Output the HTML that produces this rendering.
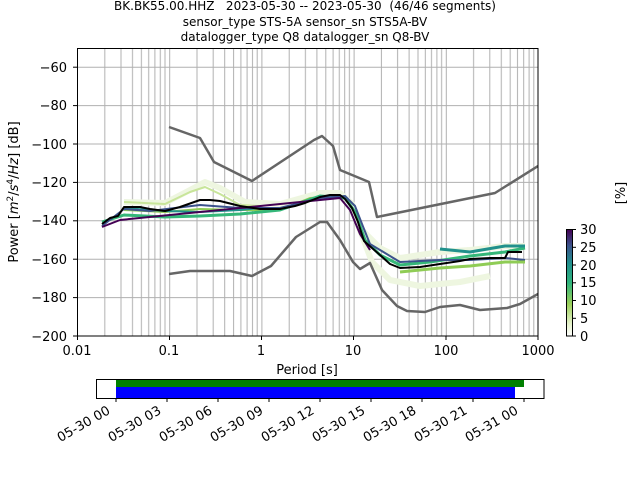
<!DOCTYPE html>
<html><head><meta charset="utf-8"><style>
html,body{margin:0;padding:0;background:#fff;}
svg{display:block;font-family:"DejaVu Sans","Liberation Sans",sans-serif;}
</style></head><body>
<svg width="640" height="480" viewBox="0 0 640 480" xmlns="http://www.w3.org/2000/svg">
<defs>
<pattern id="vg" x="77" y="0" width="92.2" height="480" patternUnits="userSpaceOnUse">
<g stroke="#b0b0b0" stroke-width="1">
<line x1="0.5" y1="0" x2="0.5" y2="480"/><line x1="27.8" y1="0" x2="27.8" y2="480"/>
<line x1="44" y1="0" x2="44" y2="480"/><line x1="55.5" y1="0" x2="55.5" y2="480"/>
<line x1="64.4" y1="0" x2="64.4" y2="480"/><line x1="71.7" y1="0" x2="71.7" y2="480"/>
<line x1="77.9" y1="0" x2="77.9" y2="480"/><line x1="83.3" y1="0" x2="83.3" y2="480"/>
<line x1="88" y1="0" x2="88" y2="480"/></g>
</pattern>
<linearGradient id="cb" x1="0" y1="1" x2="0" y2="0">
<stop offset="0" stop-color="#ffffff"/><stop offset="0.12" stop-color="#e4f1c8"/>
<stop offset="0.3" stop-color="#9bd05a"/><stop offset="0.5" stop-color="#2fb47c"/>
<stop offset="0.68" stop-color="#21908d"/><stop offset="0.85" stop-color="#3b528b"/>
<stop offset="1" stop-color="#440154"/></linearGradient>
<clipPath id="ax"><rect x="77" y="48" width="461" height="288"/></clipPath>
</defs>
<g font-size="12" text-anchor="middle" fill="#000">
<text x="305" y="10">BK.BK55.00.HHZ&#160;&#160;&#160;2023-05-30 -- 2023-05-30&#160;&#160;(46/46 segments)</text>
<text x="305" y="26">sensor_type STS-5A sensor_sn STS5A-BV</text>
<text x="305" y="41">datalogger_type Q8 datalogger_sn Q8-BV</text>
</g>
<rect x="77" y="48" width="461" height="288" fill="url(#vg)"/>
<g stroke="#b0b0b0" stroke-width="1">
<line x1="77" y1="67.2" x2="538" y2="67.2"/><line x1="77" y1="105.6" x2="538" y2="105.6"/>
<line x1="77" y1="144" x2="538" y2="144"/><line x1="77" y1="182.4" x2="538" y2="182.4"/>
<line x1="77" y1="220.8" x2="538" y2="220.8"/><line x1="77" y1="259.2" x2="538" y2="259.2"/>
<line x1="77" y1="297.6" x2="538" y2="297.6"/>
</g>
<g clip-path="url(#ax)" fill="none" stroke-linejoin="round">
<polyline stroke="#eef6e0" stroke-width="6" points="124,202 165,203 190,190 205,182 220,188 245,202 280,204 320,193 340,193 352,204 362,230 380,248 400,258 440,252 470,250 505,246 525,246"/>
<polyline stroke="#eef6e0" stroke-width="6" points="358,225 372,262 390,280 420,286 460,282 490,276"/>
<polyline stroke="#c8e59a" stroke-width="2" points="124,202 165,204 190,192 205,187 220,194 240,205 260,206"/>
<polyline stroke="#8fcc55" stroke-width="2" points="124,210 165,212 200,209 240,210 280,210 310,198 340,196"/>
<polyline stroke="#35b779" stroke-width="3" points="102,222 124,215 165,217 200,216 240,214 280,210 320,196 345,198 355,212 365,240 380,255 400,265 430,262 470,256 505,252 525,248"/>
<polyline stroke="#21918c" stroke-width="2" points="124,208 165,211 200,212 240,210 260,208"/>
<polyline stroke="#3b528b" stroke-width="2" points="102,226 124,209 150,211 200,205 240,208 280,208 320,198 345,196 355,206 362,224 370,244 400,262 440,260 470,260 505,258 525,260"/>
<polyline stroke="#440154" stroke-width="2" points="102,227 120,220 340,198 350,210 360,234 370,250"/>
<polyline stroke="#8fcc55" stroke-width="3" points="400,272 440,268 470,266 505,262 525,262"/>
<polyline stroke="#21918c" stroke-width="3" points="440,249 470,252 505,246 525,246"/>
<polyline stroke="#666" stroke-width="2.5" points="169,127 200,138 214,162 252,181 314,140 322,136 333,146 340,170 369,182 377,217 495,193 538,166"/>
<polyline stroke="#666" stroke-width="2.5" points="169,274 190,271 230,271 252,276 271,266 296,237 320,222 327,222 340,240 353,262 360,269 370,263 382,290 397,306 407,311 425,312 440,307 460,305 480,310 507,308 520,304 538,294"/>
<polyline stroke="#000" stroke-width="2" points="102,224 110,218 118,216 124,207 140,207 150,209 165,211 180,207 200,200 210,200 220,201 240,206 260,209 280,209 295,206 305,203 320,197 330,195 340,195 345,199 352,208 358,222 364,241 372,248 380,255 390,264 400,268 420,267 440,264 460,261 470,259 490,258 505,258 508,252 522,252"/>
</g>
<rect x="77.5" y="48.5" width="460.5" height="287.5" fill="none" stroke="#000" stroke-width="1"/>
<g font-size="13" text-anchor="end">
<text x="67" y="72">−60</text><text x="67" y="110">−80</text><text x="67" y="149">−100</text>
<text x="67" y="187">−120</text><text x="67" y="225">−140</text><text x="67" y="264">−160</text>
<text x="67" y="302">−180</text><text x="67" y="341">−200</text>
</g>
<g stroke="#000"><line x1="73" y1="67.2" x2="77" y2="67.2"/><line x1="73" y1="105.6" x2="77" y2="105.6"/><line x1="73" y1="144" x2="77" y2="144"/><line x1="73" y1="182.4" x2="77" y2="182.4"/><line x1="73" y1="220.8" x2="77" y2="220.8"/><line x1="73" y1="259.2" x2="77" y2="259.2"/><line x1="73" y1="297.6" x2="77" y2="297.6"/><line x1="73" y1="336" x2="77" y2="336"/>
<line x1="77.5" y1="336" x2="77.5" y2="340"/><line x1="169.5" y1="336" x2="169.5" y2="340"/><line x1="261.5" y1="336" x2="261.5" y2="340"/><line x1="353.5" y1="336" x2="353.5" y2="340"/><line x1="446" y1="336" x2="446" y2="340"/><line x1="538" y1="336" x2="538" y2="340"/></g>
<g font-size="13" text-anchor="middle">
<text x="77" y="355">0.01</text><text x="169" y="355">0.1</text><text x="261" y="355">1</text>
<text x="353" y="355">10</text><text x="446" y="355">100</text><text x="538" y="355">1000</text>
<text x="307" y="374">Period [s]</text>
</g>
<text font-size="13" text-anchor="middle" transform="translate(18,192) rotate(-90)">Power [<tspan font-style="italic">m</tspan><tspan font-size="9" dy="-5">2</tspan><tspan dy="5">/</tspan><tspan font-style="italic">s</tspan><tspan font-size="9" dy="-5">4</tspan><tspan dy="5">/</tspan><tspan font-style="italic">Hz</tspan>] [dB]</text>
<rect x="566.5" y="229.5" width="6" height="106.5" fill="url(#cb)" stroke="#000" stroke-width="1"/>
<g stroke="#000"><line x1="572.5" y1="229.5" x2="576" y2="229.5"/><line x1="572.5" y1="247.3" x2="576" y2="247.3"/><line x1="572.5" y1="265" x2="576" y2="265"/><line x1="572.5" y1="282.8" x2="576" y2="282.8"/><line x1="572.5" y1="300.5" x2="576" y2="300.5"/><line x1="572.5" y1="318.3" x2="576" y2="318.3"/><line x1="572.5" y1="336" x2="576" y2="336"/></g>
<g font-size="13"><text x="580" y="234">30</text><text x="580" y="252">25</text><text x="580" y="270">20</text><text x="580" y="287">15</text><text x="580" y="305">10</text><text x="580" y="323">5</text><text x="580" y="341">0</text></g>
<text font-size="13" text-anchor="middle" transform="translate(625,193) rotate(-90)">[%]</text>
<rect x="116" y="379" width="408" height="8" fill="#008000"/>
<rect x="116" y="387" width="399" height="11" fill="#0000ff"/>
<rect x="96.5" y="379.5" width="447.5" height="19" fill="none" stroke="#000" stroke-width="1"/>
<g stroke="#000"><line x1="116" y1="398" x2="116" y2="402"/><line x1="167" y1="398" x2="167" y2="402"/><line x1="218" y1="398" x2="218" y2="402"/><line x1="269" y1="398" x2="269" y2="402"/><line x1="320" y1="398" x2="320" y2="402"/><line x1="371" y1="398" x2="371" y2="402"/><line x1="422" y1="398" x2="422" y2="402"/><line x1="473" y1="398" x2="473" y2="402"/><line x1="524" y1="398" x2="524" y2="402"/></g>
<g font-size="13" text-anchor="end">
<text transform="translate(111,413) rotate(-30)">05-30 00</text>
<text transform="translate(162,413) rotate(-30)">05-30 03</text>
<text transform="translate(213,413) rotate(-30)">05-30 06</text>
<text transform="translate(264,413) rotate(-30)">05-30 09</text>
<text transform="translate(315,413) rotate(-30)">05-30 12</text>
<text transform="translate(366,413) rotate(-30)">05-30 15</text>
<text transform="translate(417,413) rotate(-30)">05-30 18</text>
<text transform="translate(468,413) rotate(-30)">05-30 21</text>
<text transform="translate(519,413) rotate(-30)">05-31 00</text>
</g>
</svg>
</body></html>
